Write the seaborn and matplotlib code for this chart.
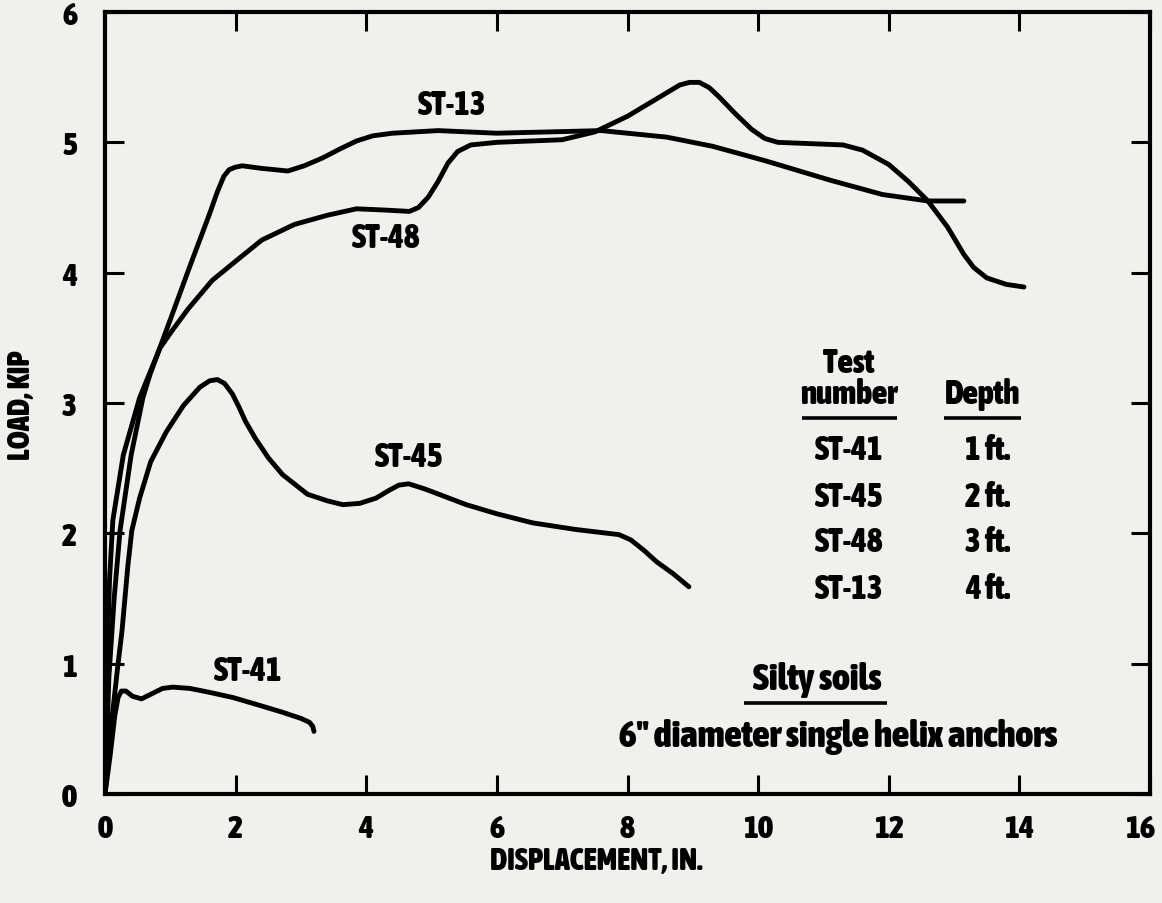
import os
import numpy as np
import pandas as pd
import matplotlib
matplotlib.use("Agg")
import matplotlib.pyplot as plt
import matplotlib.font_manager as fm
from matplotlib.transforms import ScaledTranslation
import seaborn as sns

# ---------------- data ----------------
tests = ["ST-41", "ST-45", "ST-48", "ST-13"]
depths = ["1 ft.", "2 ft.", "3 ft.", "4 ft."]

st41_x = [0.0, 0.08, 0.15, 0.20, 0.25, 0.32, 0.42, 0.56, 0.72, 0.88, 1.04, 1.30, 1.60, 1.96, 2.30, 2.70, 3.00, 3.13, 3.18, 3.20]
st41_y = [0.0, 0.30, 0.60, 0.74, 0.79, 0.79, 0.75, 0.73, 0.77, 0.81, 0.82, 0.81, 0.78, 0.74, 0.69, 0.63, 0.58, 0.55, 0.52, 0.48]

st45_x = [0.0, 0.10, 0.20, 0.26, 0.35, 0.41, 0.53, 0.70, 0.94, 1.20, 1.45, 1.60, 1.72, 1.83, 1.95, 2.05, 2.15, 2.30, 2.50, 2.72, 3.10, 3.40, 3.64, 3.90, 4.15, 4.35, 4.50, 4.65, 4.90, 5.53, 6.00, 6.55, 7.20, 7.87, 8.05, 8.25, 8.45, 8.70, 8.94]
st45_y = [0.0, 0.55, 1.00, 1.25, 1.75, 2.02, 2.27, 2.55, 2.78, 2.98, 3.12, 3.17, 3.18, 3.15, 3.07, 2.97, 2.86, 2.73, 2.58, 2.45, 2.30, 2.25, 2.22, 2.23, 2.27, 2.33, 2.37, 2.38, 2.34, 2.22, 2.15, 2.08, 2.03, 1.99, 1.95, 1.87, 1.78, 1.69, 1.59]

st48_x = [0.0, 0.03, 0.07, 0.12, 0.28, 0.53, 0.84, 1.02, 1.27, 1.64, 2.03, 2.40, 2.90, 3.40, 3.85, 4.30, 4.66, 4.80, 4.95, 5.10, 5.25, 5.40, 5.60, 6.00, 7.00, 7.50, 8.00, 8.30, 8.60, 8.80, 8.95, 9.10, 9.25, 9.40, 9.65, 9.90, 10.10, 10.30, 11.30, 11.60, 12.00, 12.30, 12.60, 12.90, 13.15, 13.30, 13.50, 13.80, 14.07]
st48_y = [0.0, 1.00, 1.65, 2.10, 2.60, 3.04, 3.42, 3.55, 3.72, 3.94, 4.10, 4.25, 4.37, 4.44, 4.49, 4.48, 4.47, 4.50, 4.58, 4.70, 4.84, 4.93, 4.98, 5.00, 5.02, 5.08, 5.20, 5.29, 5.38, 5.44, 5.46, 5.46, 5.42, 5.35, 5.22, 5.10, 5.03, 5.00, 4.98, 4.94, 4.83, 4.70, 4.55, 4.35, 4.14, 4.04, 3.96, 3.91, 3.89]

st13_x = [0.0, 0.06, 0.14, 0.23, 0.40, 0.58, 0.69, 1.00, 1.30, 1.60, 1.72, 1.82, 1.90, 2.00, 2.10, 2.40, 2.80, 3.05, 3.33, 3.60, 3.85, 4.10, 4.40, 5.10, 6.00, 6.80, 7.60, 8.60, 9.30, 10.10, 11.10, 11.90, 12.60, 13.15]
st13_y = [0.0, 0.90, 1.50, 2.02, 2.60, 3.04, 3.22, 3.64, 4.05, 4.45, 4.62, 4.74, 4.79, 4.81, 4.82, 4.80, 4.78, 4.82, 4.88, 4.95, 5.01, 5.05, 5.07, 5.09, 5.07, 5.08, 5.09, 5.04, 4.97, 4.86, 4.71, 4.60, 4.55, 4.55]

x_ticks = [0, 2, 4, 6, 8, 10, 12, 14, 16]
y_ticks = [0, 1, 2, 3, 4, 5, 6]

frames = []
for name, xs, ys in [("ST-41", st41_x, st41_y), ("ST-45", st45_x, st45_y),
                     ("ST-48", st48_x, st48_y), ("ST-13", st13_x, st13_y)]:
    frames.append(pd.DataFrame({"disp": xs, "load": ys, "test": name}))
df = pd.concat(frames, ignore_index=True)


# ---------------- font: prefer a heavy condensed face ----------------
def pick_font_file():
    prefs = ["Liberation Sans Narrow", "DejaVu Sans Condensed", "Roboto Condensed",
             "Open Sans Condensed", "Noto Sans Condensed", "Roboto", "Noto Sans",
             "Open Sans", "Lato", "Inter", "Liberation Sans", "DejaVu Sans"]
    best, best_score = None, None
    for f in fm.fontManager.ttflist:
        if f.style != "normal":
            continue
        base = os.path.basename(f.fname).lower()
        if "mono" in base or "serif" in base or "cjk" in base:
            continue
        w = f.weight if isinstance(f.weight, int) else fm.weight_dict.get(f.weight, 400)
        st = f.stretch if isinstance(f.stretch, int) else fm.stretch_dict.get(f.stretch, 500)
        cond = (st < 500 or "condensed" in base or "narrow" in base
                or "Condensed" in f.name or "Narrow" in f.name)
        pref = len(prefs)
        for i, p in enumerate(prefs):
            if f.name.startswith(p.split()[0]):
                pref = i
                break
        if w < 600:
            continue
        score = (0 if cond else 1, abs(w - 850), pref)
        if best_score is None or score < best_score:
            best, best_score = f.fname, score
    return best


FONT_FILE = pick_font_file()


def fp(size):
    if FONT_FILE:
        return fm.FontProperties(fname=FONT_FILE, size=size)
    return fm.FontProperties(family="DejaVu Sans", weight="bold", size=size)


# ---------------- styling ----------------
sns.set_theme(style="ticks")
bg = "#f0f0ec"
plt.rcParams["font.family"] = ["DejaVu Sans"]
plt.rcParams["text.color"] = "black"
plt.rcParams["axes.labelcolor"] = "black"

fig = plt.figure(figsize=(11.62, 9.04), dpi=100, facecolor=bg)
ax = fig.add_axes([105 / 1162, 1 - 795 / 904, (1150 - 105) / 1162, (795 - 13) / 904])
ax.set_facecolor(bg)

sns.lineplot(data=df, x="disp", y="load", hue="test",
             palette={t: "black" for t in tests}, legend=False,
             sort=False, estimator=None, linewidth=3.5, ax=ax)
for line in ax.get_lines():
    line.set_solid_capstyle("round")
    line.set_solid_joinstyle("round")

ax.set_xlim(0, 16)
ax.set_ylim(0, 6)
ax.set_xticks(x_ticks)
ax.set_yticks(y_ticks)
ax.set_xticklabels([str(v) for v in x_ticks])
ax.set_yticklabels([str(v) for v in y_ticks])
ax.tick_params(direction="in", length=14, width=2.2, top=True, right=True,
               colors="black")
ax.tick_params(axis="x", pad=14)
ax.tick_params(axis="y", pad=20)
for lbl in ax.get_xticklabels() + ax.get_yticklabels():
    lbl.set_fontproperties(fp(23))
# the last x label sits a little inside the right edge, as in the reference
last = ax.get_xticklabels()[-1]
last.set_transform(last.get_transform() + ScaledTranslation(-7 / 72, 0, fig.dpi_scale_trans))
for sp in ax.spines.values():
    sp.set_linewidth(3.0)
    sp.set_color("black")

ax.set_xlabel("DISPLACEMENT, IN.", fontproperties=fp(22), va="center")
ax.xaxis.set_label_coords((596 - 105) / 1045, -(862 - 795) / 782)
ax.set_ylabel("LOAD, KIP", fontproperties=fp(22), va="center")
ax.yaxis.set_label_coords(-(105 - 22) / 1045, (795 - 405) / 782)

# curve labels
F = fp(24)
kw = dict(fontproperties=F, ha="center", va="center", color="black")
ax.text(5.31, 5.29, "ST-13", **kw)
ax.text(4.30, 4.27, "ST-48", **kw)
ax.text(4.66, 2.59, "ST-45", **kw)
ax.text(2.20, 0.95, "ST-41", **kw)

# table
tx, dx = 11.39, 13.52
ax.text(tx, 3.31, "Test", **kw)
ax.text(tx, 3.07, "number", **kw)
ax.text(13.43, 3.07, "Depth", **kw)
ax.plot([10.67, 12.13], [2.885, 2.885], color="black", lw=2.6, solid_capstyle="butt")
ax.plot([12.84, 14.02], [2.885, 2.885], color="black", lw=2.6, solid_capstyle="butt")
row_y = [2.64, 2.285, 1.94, 1.58]
for t, d, yy in zip(tests, depths, row_y):
    ax.text(tx, yy, t, **kw)
    ax.text(dx, yy, d, **kw)

kw_big = dict(fontproperties=fp(27), ha="center", va="center", color="black")
ax.text(10.90, 0.88, "Silty soils", **kw_big)
ax.plot([9.79, 11.97], [0.70, 0.70], color="black", lw=2.6, solid_capstyle="butt")
ax.text(11.22, 0.446, '6" diameter single helix anchors', **kw_big)

fig.savefig("out.png", dpi=100, facecolor=bg)
